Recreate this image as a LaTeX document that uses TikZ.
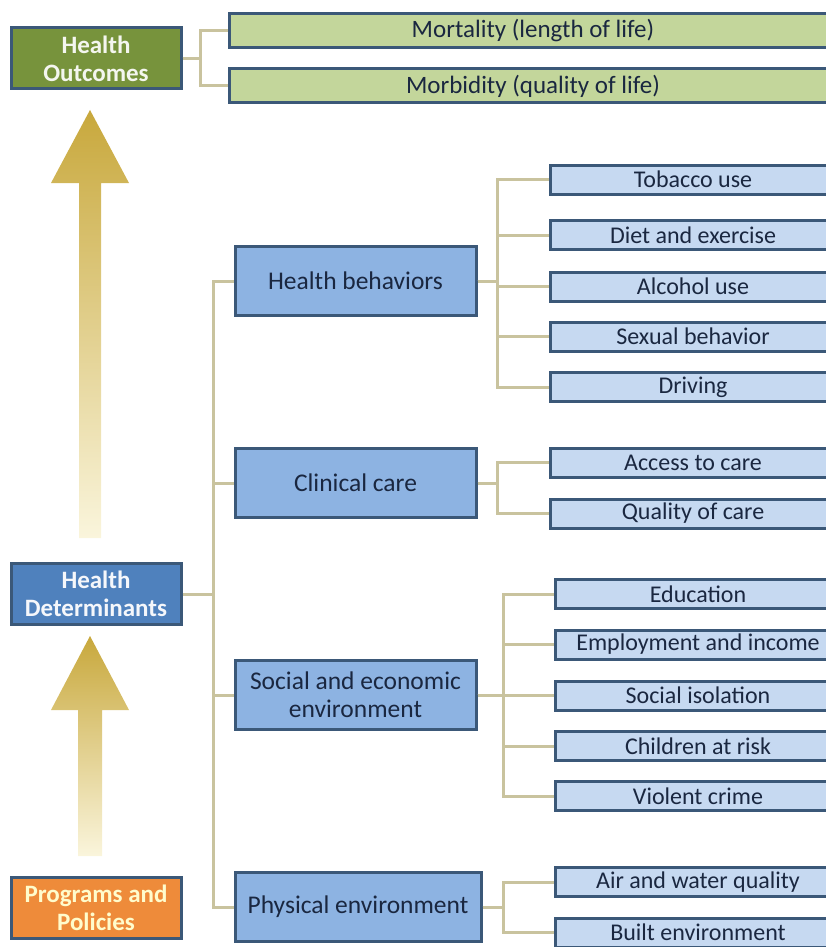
\documentclass[tikz,border=0pt]{standalone}
\usepackage{fontspec}
\setmainfont{Carlito}
\usepackage{tikz}
\usetikzlibrary{positioning}
\definecolor{edgeblue}{HTML}{3B5878}
\definecolor{olivebox}{HTML}{77933C}
\definecolor{lightolive}{HTML}{C3D69B}
\definecolor{midblue}{HTML}{4F81BD}
\definecolor{factorblue}{HTML}{8DB3E2}
\definecolor{paleblue}{HTML}{C6D9F1}
\definecolor{orangebox}{HTML}{EE8B3A}
\definecolor{linktan}{HTML}{C9C39E}
\definecolor{navytext}{HTML}{1A2740}
\definecolor{goldtop}{HTML}{C8A83C}
\definecolor{goldmid}{HTML}{D6C264}
\definecolor{goldlow}{HTML}{FAF5DC}
\tikzset{
	box/.style={
		draw=edgeblue,
		line width=3pt,
		inner sep=0pt,
		align=center,
		font=\fontsize{24}{28}\selectfont
	},
	levelbox/.style={box, minimum width=170pt, minimum height=61pt, font=\bfseries\fontsize{25}{28}\selectfont},
	outcomebox/.style={levelbox, fill=olivebox, text=white!92!olivebox},
	detbox/.style={levelbox, fill=midblue, text=white!94!midblue},
	progbox/.style={levelbox, fill=orangebox, text=yellow!20!white},
	goalbox/.style={box, anchor=west, fill=lightolive, text=navytext, minimum width=608pt, minimum height=34pt, font=\fontsize{25}{28}\selectfont},
	factorbox/.style={box, anchor=west, fill=factorblue, text=navytext, minimum width=241pt, minimum height=69pt, font=\fontsize{25.5}{28}\selectfont},
	measurebox/.style={box, anchor=west, fill=paleblue, text=navytext, minimum width=286pt, minimum height=29pt},
	link/.style={draw=linktan, line width=3pt},
	bigarrow/.style={top color=goldtop, middle color=goldmid, bottom color=goldlow}
}

\begin{document}
\begin{tikzpicture}[x=1pt,y=-1pt]
	\useasboundingbox (0,0) rectangle (826,947);
	\clip (0,0) rectangle (826,947);

	% upward arrows
	\path[bigarrow] (79,538) -- (79,183) -- (51,183) -- (90,110) -- (129,183) -- (101,183) -- (101,538) -- cycle;
	\path[bigarrow] (78,856) -- (78,710) -- (51,710) -- (90,636) -- (129,710) -- (102,710) -- (102,856) -- cycle;

	% left column
	\node[outcomebox] (outcomes) at (96,58.5) {Health\\Outcomes};
	\node[detbox] (determinants) at (96,594) {Health\\Determinants};
	\node[progbox] (programs) at (96,907.5) {Programs and\\Policies};

	% outcomes
	\node[goalbox] (mortality) at (227.5,30.5) {Mortality (length of life)};
	\node[goalbox] (morbidity) at (227.5,86) {Morbidity (quality of life)};

	% factors
	\node[factorbox] (behaviors) at (233.5,281) {Health behaviors};
	\node[factorbox] (clinical) at (233.5,483) {Clinical care};
	\node[factorbox] (social) at (233.5,695) {Social and economic\\environment};
	\node[factorbox, minimum width=246pt] (physical) at (233.5,907) {Physical environment};

	% measures
	\node[measurebox] (tobacco) at (548.5,179.5) {Tobacco use};
	\node[measurebox] (diet) at (548.5,235) {Diet and exercise};
	\node[measurebox] (alcohol) at (548.5,286.5) {Alcohol use};
	\node[measurebox] (sexual) at (548.5,336.5) {Sexual behavior};
	\node[measurebox] (driving) at (548.5,387) {Driving};

	\node[measurebox] (access) at (548.5,462.5) {Access to care};
	\node[measurebox] (quality) at (548.5,513.5) {Quality of care};

	\node[measurebox] (education) at (553.5,594) {Education};
	\node[measurebox] (employment) at (553.5,644.5) {Employment and income};
	\node[measurebox] (isolation) at (553.5,695.5) {Social isolation};
	\node[measurebox] (children) at (553.5,746) {Children at risk};
	\node[measurebox] (crime) at (553.5,796) {Violent crime};

	\node[measurebox] (air) at (553.5,882) {Air and water quality};
	\node[measurebox] (built) at (553.5,932.5) {Built environment};

	% connectors
	\draw[link] (outcomes.east) -- ++(18,0) |- (mortality.west);
	\draw[link] (outcomes.east) -- ++(18,0) |- (morbidity.west);

	\draw[link] (determinants.east) -- ++(30,0);
	\draw[link] (behaviors.west) -- ++(-20,0) |- (physical.west);
	\draw[link] (clinical.west) -- ++(-20,0);
	\draw[link] (social.west) -- ++(-20,0);

	\foreach \m in {tobacco,diet,alcohol,sexual,driving}
		\draw[link] (behaviors.east) -- ++(20,0) |- (\m.west);
	\foreach \m in {access,quality}
		\draw[link] (clinical.east) -- ++(20,0) |- (\m.west);
	\foreach \m in {education,employment,isolation,children,crime}
		\draw[link] (social.east) -- ++(26,0) |- (\m.west);
	\foreach \m in {air,built}
		\draw[link] (physical.east) -- ++(21,0) |- (\m.west);
\end{tikzpicture}
\end{document}
